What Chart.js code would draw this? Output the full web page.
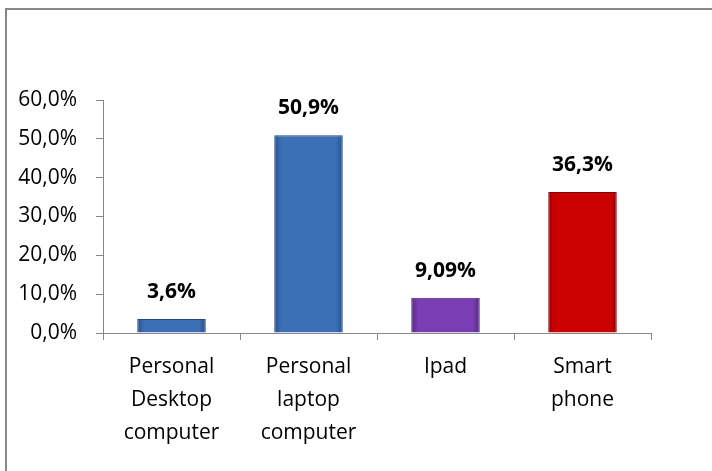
<!DOCTYPE html>
<html>
<head>
<meta charset="utf-8">
<script src="https://cdn.jsdelivr.net/npm/chart.js@4"></script>
<style>
  html, body { margin: 0; padding: 0; background: #fff; overflow: hidden; }
  #wrap { position: relative; width: 712px; height: 471px; }
  #frame { position: absolute; left: 5px; top: 8px; width: 720px; height: 480px;
           border-left: 2px solid #878787; border-top: 2px solid #878787; }
  canvas { position: absolute; left: 0; top: 0; }
</style>
</head>
<body>
<div id="wrap">
  <div id="frame"></div>
  <canvas id="deviceChart" width="712" height="471"></canvas>
</div>
<script>
// data
const categories = [
  ['Personal', 'Desktop', 'computer'],
  ['Personal', 'laptop', 'computer'],
  ['Ipad'],
  ['Smart', 'phone']
];
const shares = [3.6, 50.9, 9.09, 36.3];
const shareLabels = ['3,6%', '50,9%', '9,09%', '36,3%'];
const yTicks = [0, 10, 20, 30, 40, 50, 60];

// bar colours: [edge, middle, border]
const barColours = [
  ['#28508a', '#3b70b6', '#24487c'],
  ['#28508a', '#3b70b6', '#24487c'],
  ['#552883', '#7a3db3', '#4a2272'],
  ['#9e0000', '#cc0202', '#850000']
];

const FONT = '"Open Sans", "Noto Sans", sans-serif';
const CAT_PCT = 0.5;

// bold value labels above the bars
const valueLabels = {
  id: 'valueLabels',
  afterDatasetsDraw(chart) {
    const ctx = chart.ctx;
    const meta = chart.getDatasetMeta(0);
    ctx.save();
    ctx.font = 'bold 21px ' + FONT;
    ctx.fillStyle = '#000';
    ctx.textAlign = 'center';
    ctx.textBaseline = 'middle';
    meta.data.forEach((bar, i) => {
      ctx.fillText(shareLabels[i], bar.x, bar.y - 27);
    });
    ctx.restore();
  }
};

const ctx = document.getElementById('deviceChart').getContext('2d');
const deviceChart = new Chart(ctx, {
  type: 'bar',
  data: {
    labels: categories,
    datasets: [{
      data: shares,
      backgroundColor: function (c) {
        const col = barColours[c.dataIndex];
        const xs = c.chart.scales.x;
        if (!xs || !c.chart.chartArea) return col[1];
        const cx = xs.getPixelForValue(c.dataIndex);
        const half = (c.chart.chartArea.width / categories.length) * CAT_PCT / 2;
        const g = c.chart.ctx.createLinearGradient(cx - half, 0, cx + half, 0);
        g.addColorStop(0, col[0]);
        g.addColorStop(0.1, col[1]);
        g.addColorStop(0.9, col[1]);
        g.addColorStop(1, col[0]);
        return g;
      },
      borderColor: barColours.map(c => c[2]),
      borderWidth: 1,
      categoryPercentage: CAT_PCT,
      barPercentage: 1
    }]
  },
  options: {
    responsive: false,
    animation: false,
    layout: { padding: { top: 100, right: 61, bottom: 0, left: 0 } },
    plugins: { legend: { display: false }, tooltip: { enabled: false } },
    scales: {
      x: {
        grid: { offset: true, drawOnChartArea: false, drawTicks: true, tickLength: 7, color: '#878787' },
        border: { display: true, color: '#878787', width: 1 },
        ticks: { color: '#000', font: { family: FONT, size: 21, lineHeight: 1.57 }, padding: 11, maxRotation: 0, autoSkip: false },
        afterFit(scale) { scale.height = 138; }
      },
      y: {
        min: 0,
        max: 60,
        afterBuildTicks(scale) { scale.ticks = yTicks.map(v => ({ value: v })); },
        grid: { drawOnChartArea: false, drawTicks: true, tickLength: 7, color: '#878787' },
        border: { display: true, color: '#878787', width: 1 },
        ticks: {
          color: '#000',
          font: { family: FONT, size: 21 },
          padding: 19,
          callback: v => v.toFixed(1).replace('.', ',') + '%'
        },
        afterFit(scale) { scale.width = 103; }
      }
    }
  },
  plugins: [valueLabels]
});
</script>
</body>
</html>
